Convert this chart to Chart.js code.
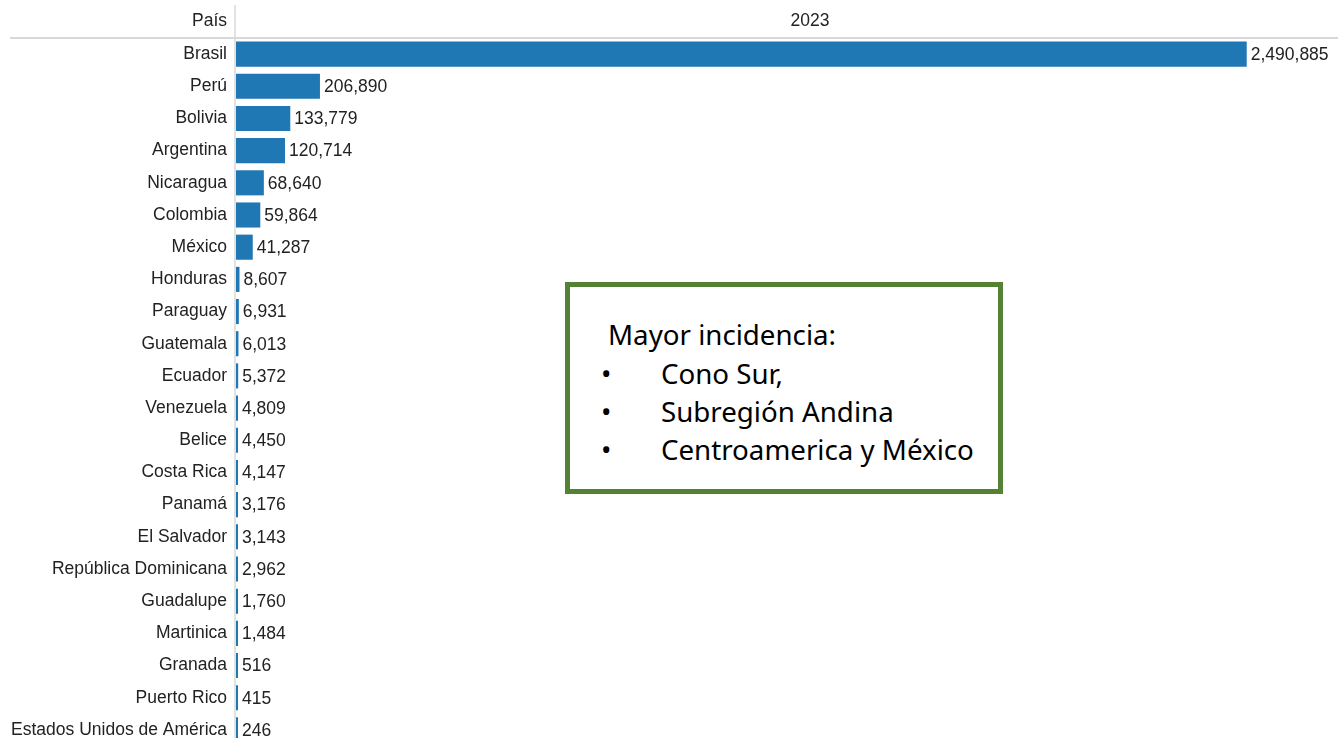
<!DOCTYPE html>
<html>
<head>
<meta charset="utf-8">
<script src="https://cdn.jsdelivr.net/npm/chart.js@4"></script>
<style>
  html, body { margin: 0; padding: 0; background: #fff; overflow: hidden; }
  #wrap { position: relative; width: 1338px; height: 800px; }
  #graph { display: block; width: 1338px; height: 800px; }
  #note {
    position: absolute; left: 565px; top: 282px; width: 428px; height: 202px;
    border: 5px solid #548235; background: #fff;
    font-family: "Noto Sans", sans-serif; font-size: 27.7px; color: #000; line-height: 36px;
  }
  #note .title { position: absolute; left: 38px; top: 29px; }
  #note .item { position: absolute; left: 91px; }
  #note .item::before { content: "•"; position: absolute; left: -60px; }
</style>
</head>
<body>
<div id="wrap">
  <canvas id="graph" width="1338" height="800"></canvas>
  <div id="note">
    <div class="title">Mayor incidencia:</div>
    <div class="item" style="top:68px">Cono Sur,</div>
    <div class="item" style="top:106px">Subregión Andina</div>
    <div class="item" style="top:144px">Centroamerica y México</div>
  </div>
</div>
<script>
const paises = [
    'Brasil', 'Perú', 'Bolivia', 'Argentina', 'Nicaragua', 'Colombia', 'México',
    'Honduras', 'Paraguay', 'Guatemala', 'Ecuador', 'Venezuela', 'Belice',
    'Costa Rica', 'Panamá', 'El Salvador', 'República Dominicana', 'Guadalupe',
    'Martinica', 'Granada', 'Puerto Rico', 'Estados Unidos de América'
];
const casos2023 = [
    2490885, 206890, 133779, 120714, 68640, 59864, 41287,
    8607, 6931, 6013, 5372, 4809, 4450,
    4147, 3176, 3143, 2962, 1760,
    1484, 516, 415, 246
];
const columnaAnio = '2023';
const columnaPais = 'País';

const fontFamily = '"Liberation Sans", Arial, sans-serif';
const labelFont = '17.5px ' + fontFamily;

// value next to each bar, plus the header row and separator lines
const tablePlugin = {
    id: 'tablePlugin',
    afterDatasetsDraw(chart) {
        const ctx = chart.ctx;
        const meta = chart.getDatasetMeta(0);
        ctx.save();
        ctx.font = labelFont;
        ctx.fillStyle = '#222';
        ctx.textAlign = 'left';
        ctx.textBaseline = 'middle';
        meta.data.forEach((bar, i) => {
            ctx.fillText(casos2023[i].toLocaleString('en-US'), bar.x + 4, bar.y + 1);
        });

        const left = chart.chartArea.left;
        ctx.strokeStyle = '#d8d8d8';
        ctx.lineWidth = 2;
        ctx.beginPath();
        ctx.moveTo(10, 38);
        ctx.lineTo(1338, 38);
        ctx.stroke();
        ctx.lineWidth = 1.5;
        ctx.beginPath();
        ctx.moveTo(left - 1, 5);
        ctx.lineTo(left - 1, 800);
        ctx.stroke();

        ctx.fillStyle = '#222';
        ctx.textAlign = 'right';
        ctx.fillText(columnaPais, left - 9, 21);
        ctx.textAlign = 'center';
        ctx.fillText(columnaAnio, 810, 21);
        ctx.restore();
    }
};

new Chart(document.getElementById('graph'), {
    type: 'bar',
    data: {
        labels: paises,
        datasets: [{
            label: columnaAnio,
            data: casos2023,
            backgroundColor: '#1f77b4',
            barPercentage: 0.78,
            categoryPercentage: 1,
            minBarLength: 2
        }]
    },
    options: {
        indexAxis: 'y',
        responsive: false,
        maintainAspectRatio: false,
        animation: false,
        layout: { padding: { top: 38, bottom: 54, right: 47, left: 0 } },
        plugins: { legend: { display: false }, tooltip: { enabled: false } },
        scales: {
            x: { display: false, min: 0, max: 2600000 },
            y: {
                grid: { display: false, drawTicks: false },
                border: { display: false },
                afterFit(axis) { axis.width = 236; },
                ticks: {
                    padding: 9,
                    color: '#222',
                    font: { family: fontFamily, size: 17.5 }
                }
            }
        }
    },
    plugins: [tablePlugin]
});
</script>
</body>
</html>
